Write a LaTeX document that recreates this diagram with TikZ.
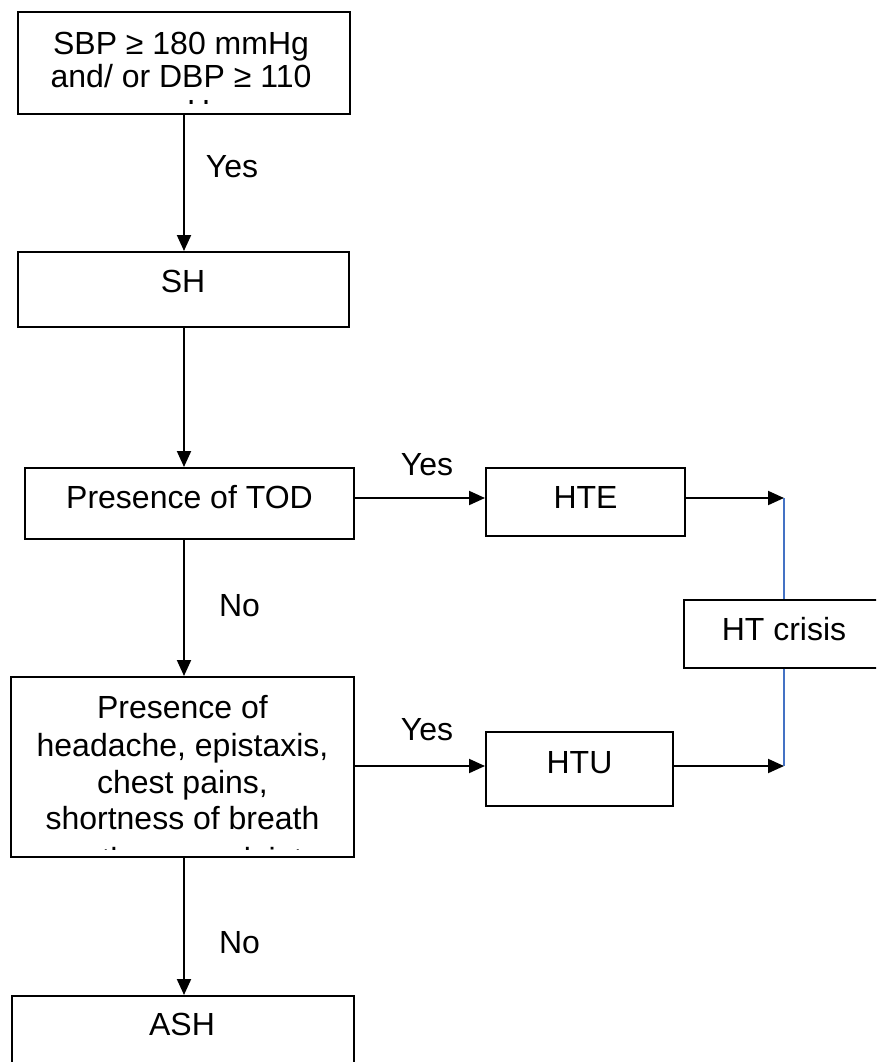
\documentclass[tikz,border=0pt]{standalone}
\usepackage{fontspec}
\setmainfont{Liberation Sans}
\usetikzlibrary{arrows.meta}
\definecolor{linkblue}{HTML}{4472C4}
\tikzset{
  box/.style={draw=black, line width=2pt, rectangle, inner sep=0pt},
  txt/.style={font=\fontsize{32}{37}\selectfont, inner sep=0pt, anchor=base},
  arr/.style={line width=2pt, -{Triangle[length=16pt,width=14pt]}},
  blueline/.style={draw=linkblue, line width=1.5pt},
}
\begin{document}
\begin{tikzpicture}[x=1pt,y=-1pt]
\clip (0,0) rectangle (876,1062);
\fill[white] (0,0) rectangle (876,1062);

% boxes
\node[box, minimum width=332pt, minimum height=102pt] (b1) at (184,63) {};
\node[box, minimum width=331pt, minimum height=75pt] (sh) at (183.5,289.5) {};
\node[box, minimum width=329pt, minimum height=71pt] (tod) at (189.5,503.5) {};
\node[box, minimum width=343pt, minimum height=180pt] (q2) at (182.5,767) {};
\node[box, minimum width=342pt, minimum height=100pt] (ash) at (183,1046) {};
\node[box, minimum width=199pt, minimum height=68pt] (hte) at (585.5,502) {};
\node[box, minimum width=187pt, minimum height=74pt] (htu) at (579.5,769) {};
\node[box, minimum width=200pt, minimum height=67.5pt] (crisis) at (784,633.75) {};

% texts
\begin{scope}
  \clip (18,12) rectangle (350,104);
  \node[txt] (b1l1) at (181,55) {SBP ≥ 180 mmHg};
  \node[txt] (b1l2) at (181,88) {and/ or DBP ≥ 110};
  \node[txt] (b1l3) at (181,122) {mmHg};
\end{scope}
\node[txt] (sht) at (183,292) {SH};
\node[txt] (todt) at (189.5,508) {Presence of TOD};
\node[txt] (htet) at (585.5,508) {HTE};
\node[txt] (htut) at (579.5,773) {HTU};
\node[txt] (crisist) at (784,640) {HT crisis};
\begin{scope}
  \clip (11,677) rectangle (354,849);
  \node[txt] (q2l1) at (182.5,718) {Presence of};
  \node[txt] (q2l2) at (182.5,756) {headache, epistaxis,};
  \node[txt] (q2l3) at (182.5,793) {chest pains,};
  \node[txt] (q2l4) at (182.5,829) {shortness of breath};
  \node[txt] (q2l5) at (182.5,870.5) {or other complaints};
\end{scope}
\node[txt] (asht) at (182,1035) {ASH};

% labels
\node[txt] (yes1) at (232,177) {Yes};
\node[txt] (yes2) at (427,475) {Yes};
\node[txt] (yes3) at (427,740) {Yes};
\node[txt] (no1) at (239.5,616) {No};
\node[txt] (no2) at (239.5,953) {No};

% junctions
\coordinate (j1) at (784,498);
\coordinate (j2) at (784,766);

% vertical connectors
\draw[arr] (b1.south) -- (b1.south |- sh.north);
\draw[arr] (b1.south |- sh.south) -- (b1.south |- tod.north);
\draw[arr] (b1.south |- tod.south) -- (b1.south |- q2.north);
\draw[arr] (b1.south |- q2.south) -- (b1.south |- ash.north);

% horizontal connectors
\draw[arr] (tod.east |- j1) -- (hte.west |- j1);
\draw[arr] (hte.east |- j1) -- (j1);
\draw[arr] (q2.east |- j2) -- (htu.west |- j2);
\draw[arr] (htu.east |- j2) -- (j2);

% blue links to HT crisis
\draw[blueline] (j1) -- (crisis.north);
\draw[blueline] (crisis.south) -- (j2);
\end{tikzpicture}
\end{document}
